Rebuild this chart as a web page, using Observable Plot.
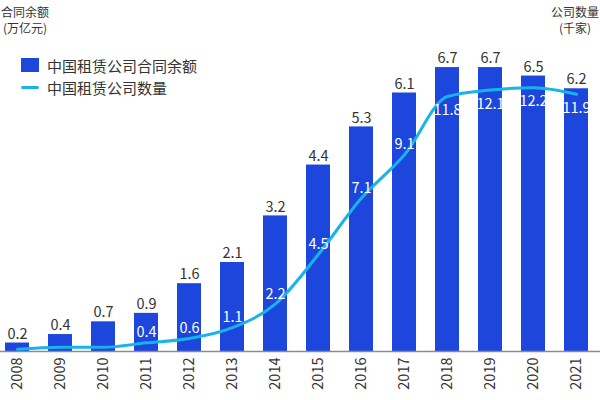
<!DOCTYPE html>
<html><head><meta charset="utf-8">
<script src="https://cdn.jsdelivr.net/npm/d3@7"></script>
<script src="https://cdn.jsdelivr.net/npm/@observablehq/plot@0.6"></script>
<style>
html,body{margin:0;padding:0;overflow:hidden;background:#fff;}
#wrap{position:relative;width:600px;height:400px;overflow:hidden;font-family:"Noto Sans CJK SC","Noto Sans",sans-serif;color:#333;}
.ttl{position:absolute;font-size:12px;line-height:16px;white-space:nowrap;}
.leg{position:absolute;left:21px;display:flex;align-items:center;font-size:15px;height:20px;white-space:nowrap;}
.sw{display:inline-block;margin-right:8px;}
</style></head><body><div id="wrap"></div>
<script>
const years = ["2008","2009","2010","2011","2012","2013","2014","2015","2016","2017","2018","2019","2020","2021"];
const balance = [0.2,0.4,0.7,0.9,1.6,2.1,3.2,4.4,5.3,6.1,6.7,6.7,6.5,6.2];
const companies = [0.1,0.2,0.2,0.4,0.6,1.1,2.2,4.5,7.1,9.1,11.8,12.1,12.2,11.9];
const labeledYears = ["2011","2012","2013","2014","2015","2016","2017","2018","2019","2020","2021"];
const seriesNames = ["中国租赁公司合同余额","中国租赁公司数量"];
const leftTitle = ["合同余额","(万亿元)"];
const rightTitle = ["公司数量","(千家)"];

const barColor = "#1d46dc";
const lineColor = "#17b3ea";
const k = 0.51; // right axis (千家) to left axis (万亿元) ratio

const data = years.map((y,i)=>({year:y, balance:balance[i], count:companies[i]}));
const lab = data.filter(d=>labeledYears.includes(d.year));

const chart = Plot.plot({
  width:600, height:400,
  marginLeft:0, marginRight:0, marginTop:12, marginBottom:49,
  style:{fontFamily:'"Noto Sans CJK SC","Noto Sans",sans-serif', background:"white"},
  x:{type:"band", domain:years, range:[0,594], paddingInner:0.44, paddingOuter:0.09, label:null},
  y:{domain:[0,8], axis:null},
  marks:[
    Plot.barY(data,{x:"year", y:"balance", fill:barColor}),
    Plot.ruleY([0],{stroke:"#8c8c8c", strokeWidth:1.5}),
    Plot.text(data,{x:"year", y:"balance", text:d=>d.balance.toFixed(1), dy:-9, fill:"#333", fontSize:14.5}),
    Plot.line(data,{x:"year", y:d=>d.count*k, stroke:lineColor, strokeWidth:3, curve:"monotone-x"}),
    Plot.text(lab.filter(d=>d.count<11),{x:"year", y:d=>d.count*k, text:d=>d.count.toFixed(1), dy:-10, fill:"white", fontSize:14.5}),
    Plot.text(lab.filter(d=>d.count>=11),{x:"year", y:d=>d.count*k, text:d=>d.count.toFixed(1), dy:14, fill:"white", fontSize:14.5}),
    Plot.axisX({tickSize:0, tickPadding:6, tickRotate:-90, fontSize:14.5, fill:"#333", label:null})
  ]
});
const wrap = document.getElementById("wrap");
wrap.appendChild(chart);

function addDiv(cls, html, style){
  const d=document.createElement("div"); d.className=cls; d.innerHTML=html; Object.assign(d.style, style); wrap.appendChild(d); return d;
}
addDiv("ttl", leftTitle.join("<br>"), {left:"1px", top:"4px", textAlign:"center"});
addDiv("ttl", rightTitle.join("<br>"), {right:"1px", top:"4px", textAlign:"center"});
addDiv("leg", `<span class="sw" style="width:18px;height:14px;background:${barColor}"></span>${seriesNames[0]}`, {top:"55px"});
addDiv("leg", `<span class="sw" style="width:18px;height:3px;background:${lineColor};border-radius:2px"></span>${seriesNames[1]}`, {top:"77px"});
</script>
</body></html>
